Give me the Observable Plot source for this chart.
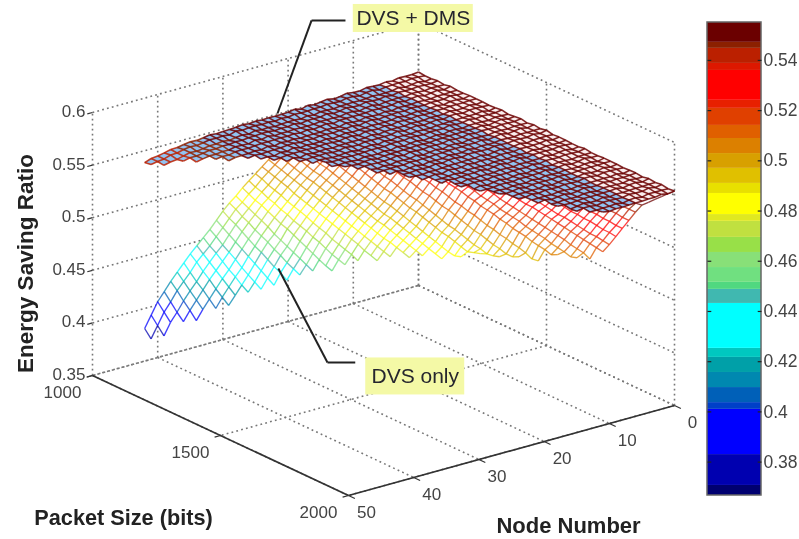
<!DOCTYPE html>
<html><head><meta charset="utf-8">
<style>
html,body{margin:0;padding:0;background:#fff}
#chart{display:flex;width:799px;height:539px}
#chart svg{flex:none;filter:blur(.5px);font-family:"Liberation Sans",Arial,sans-serif}
</style>
<script src="https://cdn.jsdelivr.net/npm/d3@7"></script>
<script src="https://cdn.jsdelivr.net/npm/@observablehq/plot@0.6"></script>
</head><body><div id="chart"></div>
<script>
const nodeTicks=[0,10,20,30,40,50];
const packetTicks=[1000,1500,2000];
const ratioTicks=[0.35,0.4,0.45,0.5,0.55,0.6];
const barTicks=[0.38,0.4,0.42,0.44,0.46,0.48,0.5,0.52,0.54];
const colorBreaks=[.3707,.383,.401,.4037,.4097,.4157,.4217,.4253,.4432,.4488,.4516,.4575,.4635,.4695,.4759,.4786,.487,.491,.497,.5029,.5089,.5141,.5209,.5241,.536,.5388,.5448,.5472];
const colorBands=["#000070","#0000b0","#0000ff","#0040c8","#0060b8","#0088b0","#00a0a8","#00c8c0","#00ffff","#40b8b0","#50d880","#70e080","#88e078","#98e048","#c0e040","#e0e820","#ffff00","#e8e000","#e0c000","#d8a000","#dc8000","#e06000","#e04000","#e82000","#ff0000","#dd1800","#bb2000","#8b2000","#6b0000"];
const packetStep=25;
// largest node number present on each packet-size line (1000, 1025, ... 2000)
const nodeLimit=[42,42,41,39,38,36,35,33,32,31,30,29,28,27,27,26,25,24,24,23,22,22,21,20,20,19,19,18,18,17,17,16,16,15,15,14,14,13,13,12,11];
// DVS only: ratio x 1000 per packet-size line, from nodeLimit downwards
const dvsOnly=[
[381,392,403,411,419,426,433,440,446,452,458,465,472,478,483,489,494,499,504,509,514,519,524,529,534,539,544],
[374,385,396,404,413,420,427,435,441,447,454,461,468,475,480,486,491,497,502,507,512,517,522,527,532,537,542],
[378,389,397,406,414,421,429,436,443,449,457,465,471,477,483,489,494,500,505,510,515,520,525,530,535,541],
[391,400,408,416,424,431,438,445,453,461,468,474,481,486,492,498,503,508,513,518,523,529,534,539],
[393,402,410,418,426,433,441,449,457,464,471,478,484,490,496,501,506,511,516,521,527,532,537],
[404,413,421,429,436,445,453,461,468,475,481,487,493,499,504,509,514,519,525,530,535,541],
[408,416,424,432,441,450,458,464,472,479,485,491,497,503,508,513,518,523,528,534,539],
[420,428,437,446,454,461,470,476,483,489,495,501,506,511,516,521,526,532,538],
[424,433,442,451,458,467,474,481,487,493,499,504,509,514,520,525,530,536],
[429,439,447,455,464,472,478,485,491,497,502,507,512,518,523,529,535],
[435,444,452,461,469,476,483,489,495,500,505,510,516,521,527,533,538],
[441,449,458,467,474,481,487,493,498,503,508,514,519,525,531,537],
[446,455,464,471,479,485,491,496,501,506,512,517,524,530,535],
[452,461,469,477,483,489,494,499,504,510,516,522,528,534],
[450,459,467,475,481,487,492,497,502,509,514,520,527,532],
[457,465,473,479,485,490,495,501,507,512,519,525,531,535],
[462,470,477,483,489,494,499,505,510,517,523,529,533],
[468,475,481,487,492,497,503,509,515,522,528,531,533],
[466,473,480,485,490,495,502,507,514,520,527,530,532],
[471,478,483,488,493,500,505,512,519,525,529,531,535],
[476,481,486,491,498,503,510,517,524,527,530,534,536],
[474,479,484,489,496,501,509,515,523,526,529,533,535],
[477,482,487,494,499,507,514,521,525,528,532,534,538],
[480,485,493,498,505,512,520,523,527,531,533,537],
[478,483,491,496,503,511,518,522,526,530,532,536,540],
[482,489,494,501,509,517,521,524,529,532,536,539],
[484,487,492,500,507,516,519,523,528,531,535,539],
[489,491,498,506,514,518,522,527,530,534,538],
[491,489,496,504,513,517,521,526,530,534,538],
[490,495,503,511,516,520,526,529,533,537,541],
[492,493,501,510,514,519,525,528,532,537,541],
[493,500,509,513,518,524,527,532,536,541],
[496,498,507,512,517,523,526,531,536,541],
[495,506,511,516,522,526,530,535,540,545],
[496,505,509,515,521,525,530,535,540,545],
[503,508,514,520,524,529,534,540,545],
[506,507,512,519,523,529,534,539,545,548],
[505,511,518,522,528,533,539,545,548],
[507,510,517,522,527,533,539,544,548],
[507,516,521,527,532,538,544,548],
[515,520,526,532,538,544,549,550,551,552,553,554]];
// DVS + DMS (0..42), the packet lines and the diagonals
const dmsByNode=[.5525,.552,.5525,.552,.5515,.552,.5515,.551,.5515,.551,.5505,.551,.5505,.55,.5505,.55,.5495,.55,.549,.5495,.549,.5485,.549,.5485,.5485,.5485,.5485,.549,.548,.5485,.5475,.5475,.5475,.547,.5465,.546,.5455,.545,.544,.543,.5415,.5405,.539];
const dmsByPacket=[0,.0003,-.0002,.0004,.0002,.0005,.0001,.0006,.0003,.0007,.0004,.0008,.0005,.001,.0006,.0011,.0013,.0009,.0014,.001,.0015,.0011,.0012,.0008,.0013,.0009,.0012,.0007,.0011,.0008,.0012,.0009,.0013,.0008,.0012,.0009,.0013,.001,.0014,.001,.0012];
const dmsByDiagonal=[.0002,-.0003,.0004,-.0001,.0005,-.0004,.0001,.0003,-.0006,.0002,-.0001,.0005,-.0004,.0001,.0006,-.0002,-.0005,.0004,.0001,-.0003,.0006,-.0002,.0003,-.0005,.0004,-.0001,-.0004,.0005,.0001,-.0006,.0003,-.0001,.0005,-.0003,.0001,.0006,-.0004,.0002,-.0001,-.0005,.0004,.0002,-.0003,.0006,-.0002,.0001,-.0005,.0004,.0003,-.0006,.0001,.0005,-.0002,-.0004,.0005,.0001,-.0003,.0003,-.0005,.0006,-.0001,.0002,-.0004,.0004,-.0001,.0005,-.0003,.0001,.0004,-.0006,.0003,-.0002,.0005,-.0001,-.0004,.0006,.0001,-.0005,.0003,-.0002,.0001,.0004,-.0003];
const blueHoleFromNode=6;

// oblique view of the box: node, packet, ratio to picture position
const viewX=(n,p)=>92+6.52*(50-n)+.256*(p-1000);
const viewY=(n,p,z)=>375-1.8*(50-n)+.12*(p-1000)-1052*(z-.35);
const packetOf=j=>1000+packetStep*j;

const lowerAt=(n,j)=>{const v=dvsOnly[j]&&dvsOnly[j][nodeLimit[j]-n];return v==null?null:v/1000;};
const upperAt=(n,j)=>n<=nodeLimit[j]?dmsByNode[n]+dmsByPacket[j]+dmsByDiagonal[n-j+40]:null;

function surface(at){
  const cells=[],edges=[];
  const pt=(n,j)=>{const z=at(n,j);return z==null?null:{x:viewX(n,packetOf(j)),y:viewY(n,packetOf(j),z),z,n,j};};
  let id=0;
  for(let j=0;j<nodeLimit.length;j++){
    for(let n=0;n<=nodeLimit[j];n++){
      const a=pt(n,j); if(!a) continue;
      const b=pt(n+1,j), c=j<40?pt(n,j+1):null, d=j<40?pt(n+1,j+1):null;
      if(b) edges.push({x1:a.x,y1:a.y,x2:b.x,y2:b.y,z:(a.z+b.z)/2});
      if(c) edges.push({x1:a.x,y1:a.y,x2:c.x,y2:c.y,z:(a.z+c.z)/2});
      if(b&&c&&d){id++;for(const v of [a,b,d,c]) cells.push({x:v.x,y:v.y,cell:id,n});}
    }
  }
  return {cells,edges};
}
const low=surface(lowerAt), up=surface(upperAt);

// box, grid, ticks
const pBack=1000,pFront=2000,nFar=50,nBack=0,zLo=.35,zHi=.6;
const seg=(n1,p1,z1,n2,p2,z2)=>({x1:viewX(n1,p1),y1:viewY(n1,p1,z1),x2:viewX(n2,p2),y2:viewY(n2,p2,z2)});
const grid=[];
for(const n of nodeTicks){grid.push(seg(n,pBack,zLo,n,pFront,zLo));grid.push(seg(n,pBack,zLo,n,pBack,zHi));}
for(const p of packetTicks){grid.push(seg(nBack,p,zLo,nFar,p,zLo));grid.push(seg(nBack,p,zLo,nBack,p,zHi));}
for(const z of ratioTicks){grid.push(seg(nFar,pBack,z,nBack,pBack,z));grid.push(seg(nBack,pBack,z,nBack,pFront,z));}
const frame=[seg(nFar,pBack,zLo,nFar,pFront,zLo),seg(nFar,pFront,zLo,nBack,pFront,zLo)];
const ticks=[
 ...nodeTicks.map(n=>seg(n,pFront,zLo,n,pFront+25,zLo)),
 ...packetTicks.map(p=>seg(nFar,p,zLo,nFar+.9,p,zLo)),
 ...ratioTicks.map(z=>seg(nFar,pBack,z,nFar+.8,pBack,z))
];
const at=(n,p,z)=>({x:viewX(n,p),y:viewY(n,p,z)});
const nodeLabels=nodeTicks.map(n=>({...at(n,pFront,zLo),t:String(n)}));
const packetLabels=packetTicks.map(p=>({...at(nFar,p,zLo),t:String(p)}));
const ratioLabels=ratioTicks.map(z=>({...at(nFar,pBack,z),t:String(z)}));

// callouts, placed in the box's own units
const dmsCallout=[[11.2,1000,.6211],[16.4,1000,.63],[21.63,1000,.5505]].map(d=>at(...d));
const dvsCallout=[[9.7,1000,.2933],[13.96,1000,.3007],[21.5,1000,.403]].map(d=>at(...d));
const callouts=[
 {...at(.8,1000,.6052),t:"DVS + DMS",w:120,h:28},
 {...at(.5,1000,.2644),t:"DVS only",w:99,h:37}
];
const path=(pts)=>pts.slice(1).map((b,i)=>({x1:pts[i].x,y1:pts[i].y,x2:b.x,y2:b.y}));

const links=(data,o)=>Plot.link(data,{x1:"x1",y1:"y1",x2:"x2",y2:"y2",...o});
const cellFill=(data,fill)=>Plot.line(data,{x:"x",y:"y",z:"cell",fill,stroke:"none"});

const colorScale={type:"threshold",domain:colorBreaks,range:colorBands};
const main=Plot.plot({
  width:700,height:539,margin:0,
  x:{domain:[0,700],range:[0,700],axis:null},
  y:{domain:[0,539],range:[0,539],axis:null},
  color:colorScale,
  style:{background:"#fff"},
  marks:[
    links(grid,{stroke:"#777",strokeWidth:1.6,strokeDasharray:"1.8 3.2"}),
    links(frame,{stroke:"#333",strokeWidth:1.7}),
    links(ticks,{stroke:"#333",strokeWidth:1.2}),
    cellFill(low.cells,"#fff"),
    links(low.edges,{stroke:"z",strokeWidth:1.35,strokeOpacity:.75}),
    cellFill(up.cells.filter(d=>d.n<blueHoleFromNode),"#fbeeee"),
    cellFill(up.cells.filter(d=>d.n>=blueHoleFromNode),"#92c4f2"),
    links(up.edges,{stroke:"z",strokeWidth:1.6,strokeOpacity:.85}),
    links(path(dmsCallout),{stroke:"#222",strokeWidth:2}),
    links(path(dvsCallout),{stroke:"#222",strokeWidth:2}),
    Plot.rect(callouts,{x1:d=>d.x-d.w/2,x2:d=>d.x+d.w/2,y1:d=>d.y-d.h/2,y2:d=>d.y+d.h/2,fill:"#f4f9a6"}),
    Plot.text(callouts,{x:"x",y:"y",text:"t",fontSize:21,fill:"#26262e"}),
    Plot.text(ratioLabels,{x:"x",y:"y",text:"t",dx:-7,dy:-1,textAnchor:"end",fontSize:17,fill:"#444"}),
    Plot.text(packetLabels,{x:"x",y:"y",text:"t",dx:-30,dy:17,fontSize:17,fill:"#444"}),
    Plot.text(nodeLabels,{x:"x",y:"y",text:"t",dx:18,dy:17,fontSize:17,fill:"#444"}),
    Plot.text(["Energy Saving Ratio"],{x:25,y:263,rotate:-90,fontSize:22.5,fontWeight:"bold",fill:"#222"}),
    Plot.text(["Packet Size (bits)"],{x:123,y:518,fontSize:21.7,fontWeight:"bold",fill:"#222"}),
    Plot.text(["Node Number"],{x:568,y:525,fontSize:22,fontWeight:"bold",fill:"#222"})
  ]
});

// colour bar
const barLo=.3667,barHi=.5551;
const bands=colorBands.map((c,i)=>({lo:i?colorBreaks[i-1]:barLo,hi:i<colorBreaks.length?colorBreaks[i]:barHi}));
const bar=Plot.plot({
  width:99,height:539,margin:0,
  x:{domain:[0,1],range:[7,61],axis:null},
  y:{domain:[barLo,barHi],range:[495,22],axis:null},
  color:colorScale,
  style:{background:"#fff"},
  marks:[
    Plot.rect(bands,{x1:0,x2:1,y1:"lo",y2:"hi",fill:d=>(d.lo+d.hi)/2}),
    Plot.rect([0],{x1:0,x2:1,y1:barLo,y2:barHi,fill:"none",stroke:"#666",strokeWidth:1.5}),
    Plot.link(barTicks,{x1:0,x2:.07,y1:d=>d,y2:d=>d,stroke:"#222",strokeWidth:1.2}),
    Plot.link(barTicks,{x1:.93,x2:1,y1:d=>d,y2:d=>d,stroke:"#222",strokeWidth:1.2}),
    Plot.text(barTicks,{x:1,y:d=>d,text:d=>String(d),dx:2,textAnchor:"start",fontSize:17.5,fill:"#444"})
  ]
});
document.getElementById("chart").append(main,bar);
</script></body></html>
